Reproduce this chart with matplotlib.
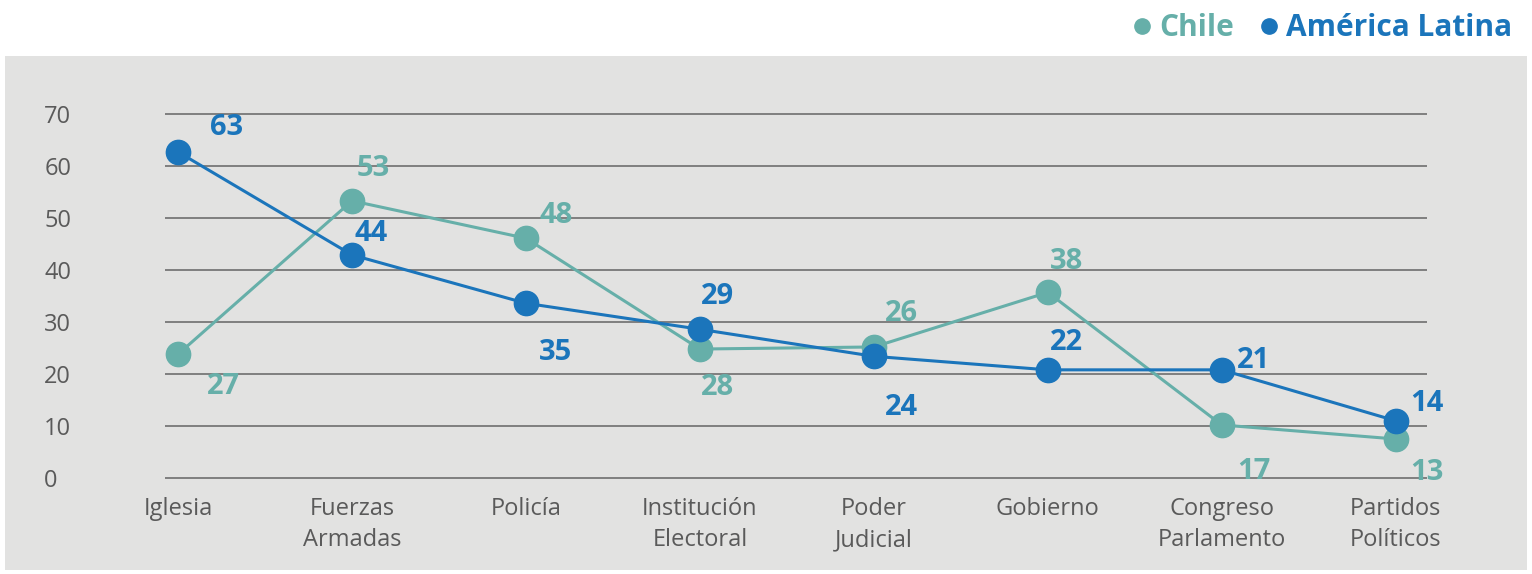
import numpy as np
import matplotlib.pyplot as plt
from matplotlib.lines import Line2D
from matplotlib.patches import Rectangle

plt.rcParams['font.family'] = ['Open Sans', 'DejaVu Sans']

# data
categories = ['Iglesia', 'Fuerzas\nArmadas', 'Policía', 'Institución\nElectoral',
              'Poder\nJudicial', 'Gobierno', 'Congreso\nParlamento', 'Partidos\nPolíticos']
chile_vals = [23.8, 53.3, 46.1, 24.8, 25.2, 35.7, 10.2, 7.5]
chile_labels = ['27', '53', '48', '28', '26', '38', '17', '13']
al_vals = [62.7, 42.9, 33.6, 28.6, 23.4, 20.8, 20.8, 11.0]
al_labels = ['63', '44', '35', '29', '24', '22', '21', '14']

# label offsets in pixels (dx, dy up)
chile_off = [(45, -32), (21, 32), (30, 23), (18, -38), (28, 33), (19, 31), (32, -47), (31, -33)]
al_off = [(49, 24), (19, 21), (30, -49), (18, 33), (28, -51), (19, 27), (32, 9), (31, 17)]

teal = '#66afa9'
blue = '#1b75bb'
gray_txt = '#5a5a5a'

fig = plt.figure(figsize=(15.32, 5.74), dpi=100)
fig.patch.set_facecolor('white')
fig.patches.append(Rectangle((5 / 1532, 1 - 570 / 574), 1522 / 1532, 514 / 574,
                             transform=fig.transFigure, facecolor='#e2e2e1',
                             edgecolor='none', zorder=-5))

ax = fig.add_axes([165 / 1532, 1 - 480.6 / 574, (1427 - 165) / 1532, (480.6 - 111.4) / 574])
ax.patch.set_alpha(0)
x = np.arange(len(categories))

ax.plot(x, chile_vals, color=teal, lw=2.2, marker='o', ms=17.5, zorder=3)
ax.plot(x, al_vals, color=blue, lw=2.2, marker='o', ms=17.5, zorder=4)

for i in range(len(x)):
    ax.annotate(chile_labels[i], (x[i], chile_vals[i]),
                xytext=(chile_off[i][0] * 0.72, chile_off[i][1] * 0.72),
                textcoords='offset points', ha='center', va='center',
                color=teal, fontsize=21, fontweight='bold', zorder=5)
    ax.annotate(al_labels[i], (x[i], al_vals[i]),
                xytext=(al_off[i][0] * 0.72, al_off[i][1] * 0.72),
                textcoords='offset points', ha='center', va='center',
                color=blue, fontsize=21, fontweight='bold', zorder=5)

ax.set_xlim(-0.075, 7.18)
ax.set_ylim(-0.5, 70.5)
ax.set_yticks(np.arange(0, 71, 10))
ax.set_xticks(x)
ax.set_xticklabels(categories, fontsize=17, color=gray_txt, linespacing=1.4)
ax.tick_params(axis='y', length=0, pad=87, labelsize=17, labelcolor=gray_txt)
ax.tick_params(axis='x', length=0, pad=12)
for lbl in ax.get_yticklabels():
    lbl.set_horizontalalignment('left')
ax.grid(axis='y', color='#6e6e6e', lw=1.2)
ax.set_axisbelow(True)
for s in ax.spines.values():
    s.set_visible(False)

handles = [Line2D([], [], ls='none', marker='o', ms=11, color=teal),
           Line2D([], [], ls='none', marker='o', ms=11, color=blue)]
leg = ax.legend(handles, ['Chile', 'América Latina'], ncol=2, loc='center right',
                bbox_to_anchor=(1512 / 1532, 1 - 28 / 574), bbox_transform=fig.transFigure,
                frameon=False, handlelength=0.6, handletextpad=0.25, columnspacing=0.9,
                prop={'size': 21.5, 'weight': 'bold'}, borderaxespad=0, borderpad=0)
for t, c in zip(leg.get_texts(), [teal, blue]):
    t.set_color(c)

fig.savefig('out.png', dpi=100)
